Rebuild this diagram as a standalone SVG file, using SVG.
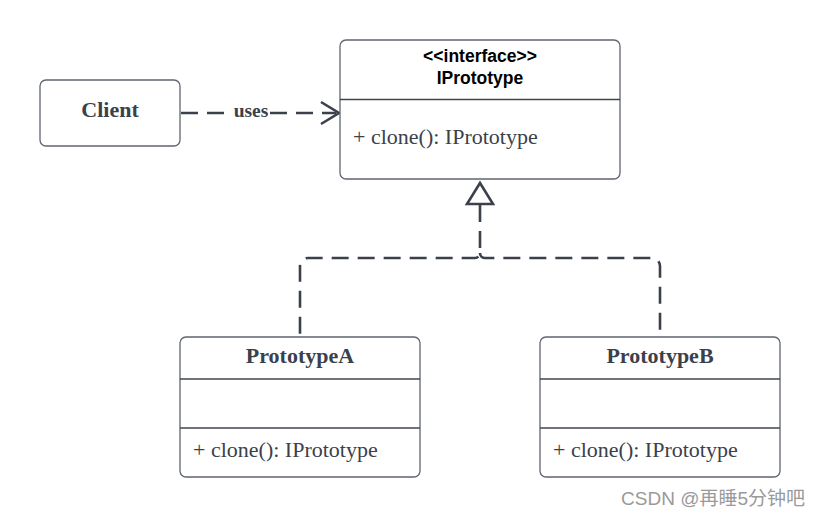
<svg xmlns="http://www.w3.org/2000/svg" width="820" height="517" viewBox="0 0 820 517">
<style>
.box{fill:#fff;stroke:#5f6670;stroke-width:1.3}
.div{stroke:#3f454e;stroke-width:1.3}
.serif{font-family:"Liberation Serif","Times New Roman",serif;fill:#3a414b}
.sans{font-family:"Liberation Sans",Arial,sans-serif;fill:#000;font-weight:bold;font-size:17.5px;text-anchor:middle}
.name{font-weight:bold;font-size:22px;text-anchor:middle}
.meth{font-size:22px}
.conn{fill:none;stroke:#3a414b;stroke-width:2.6;stroke-dasharray:17 9}
.solid{fill:none;stroke:#3a414b;stroke-width:2.6}
</style>
<rect width="820" height="517" fill="#fff"/>
<g id="connectors">
  <g id="uses">
    <path class="conn" d="M181 113H230"/>
    <path class="conn" d="M268 113H336" stroke-dashoffset="-2"/>
    <path class="solid" d="M321 102L339 113L321 124"/>
    <text class="serif" x="251" y="117" font-size="19.5" font-weight="bold" text-anchor="middle">uses</text>
  </g>
  <g id="realization">
    <path class="solid" d="M480 183L493 204H467Z" stroke-linejoin="miter"/>
    <path class="conn" d="M480 205V253a5 5 0 0 1 -5 5H308a8 8 0 0 0 -8 8V337"/>
    <path class="conn" d="M480 253a5 5 0 0 0 5 5H652a8 8 0 0 1 8 8V337"/>
  </g>
</g>
<g id="client">
  <rect class="box" x="40" y="80" width="140" height="66" rx="6"/>
  <text class="serif name" x="110" y="117">Client</text>
</g>
<g id="iprototype">
  <rect class="box" x="340" y="40" width="280" height="139" rx="6"/>
  <line class="div" x1="340" y1="99.5" x2="620" y2="99.5"/>
  <text class="sans" x="480" y="62">&lt;&lt;interface&gt;&gt;</text>
  <text class="sans" x="480" y="84">IPrototype</text>
  <text class="serif meth" x="353" y="144">+ clone(): IPrototype</text>
</g>
<g id="prototypeA">
  <rect class="box" x="180" y="337" width="240" height="140" rx="6"/>
  <line class="div" x1="180" y1="379" x2="420" y2="379"/>
  <line class="div" x1="180" y1="428" x2="420" y2="428"/>
  <text class="serif name" x="300" y="363">PrototypeA</text>
  <text class="serif meth" x="193" y="457">+ clone(): IPrototype</text>
</g>
<g id="prototypeB">
  <rect class="box" x="540" y="337" width="240" height="140" rx="6"/>
  <line class="div" x1="540" y1="379" x2="780" y2="379"/>
  <line class="div" x1="540" y1="428" x2="780" y2="428"/>
  <text class="serif name" x="660" y="363">PrototypeB</text>
  <text class="serif meth" x="553" y="457">+ clone(): IPrototype</text>
</g>
<text x="805" y="505" text-anchor="end" font-family="'Liberation Sans','Noto Sans CJK SC',sans-serif" font-size="19" fill="#9a9a9a">CSDN @再睡5分钟吧</text>
</svg>
